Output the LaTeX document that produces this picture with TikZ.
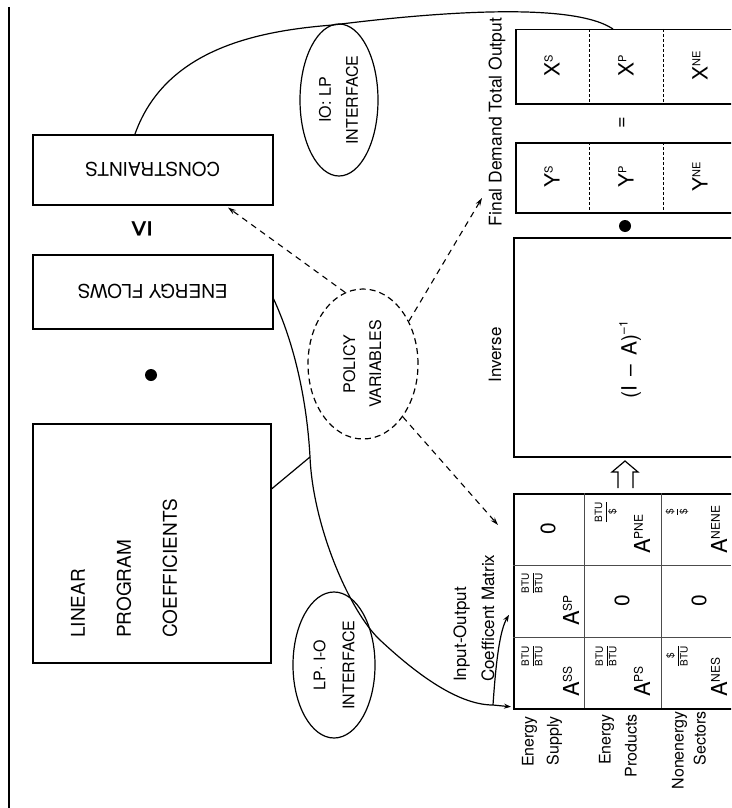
\documentclass[tikz,border=0pt]{standalone}
\usepackage{fontspec}
\setmainfont{TeX Gyre Heros}
\newfontfamily\dejavu{DejaVu Sans}
\usepackage{amsmath}
\usepackage{graphicx}
\usetikzlibrary{arrows.meta,shapes.geometric,calc}
\newcommand{\fsz}[2]{\fontsize{#1}{#2}\selectfont}
\newcommand{\Asub}[1]{{\fsz{22}{22}A}{\fsz{12}{12}\raisebox{7.2pt}{#1}}}
\newcommand{\XYsub}[2]{{\fsz{21}{21}#1}{\fsz{11}{11}\raisebox{7.2pt}{#2}}}
\newcommand{\ufrac}[2]{{\fsz{10}{10}$\dfrac{\text{#1}}{\text{#2}}$}}
\begin{document}
\begin{tikzpicture}[x=1pt,y=-1pt,
  box/.style={draw, line width=1.5pt, inner sep=0pt, anchor=north west},
  conn/.style={line width=1.2pt},
  tip/.style={-{Stealth[length=7pt,width=5pt]}},
  dasharrow/.style={line width=1.1pt, dash pattern=on 6pt off 5pt, -{Stealth[length=8pt,width=5pt]}},
  rot/.style={rotate=90, inner sep=0pt},
  oval/.style={ellipse, draw, line width=1.2pt, inner sep=0pt},
  grid/.style={line width=0.6pt, draw=black!70},
  divider/.style={line width=0.9pt, dash pattern=on 3pt off 2pt}]
\useasboundingbox (0,0) rectangle (731,808);
\clip (0,0) rectangle (731,808);
\fill[white] (0,0) rectangle (731,808);

% left rule
\draw[line width=1.5pt] (9,7) -- (9,808);

% left column boxes
\node[box, minimum width=240pt, minimum height=70pt] (con) at (32,134) {\rotatebox{180}{\fsz{19}{19}CONSTRAINTS}};
\node[rot, font=\fsz{27}{27}\dejavu] (le) at (142,229) {\scalebox{0.85}[1.25]{≤}};
\node[box, minimum width=240pt, minimum height=74pt] (ef) at (32,254) {\rotatebox{180}{\fsz{19}{19}ENERGY FLOWS}};
\fill (151,375) circle (6);
\node[box, minimum width=238pt, minimum height=239pt] (lp) at (32,423) {};
\node[rot, font=\fsz{19}{46}, align=left, anchor=west] (lptext) at (124,638) {LINEAR\\PROGRAM\\COEFFICIENTS};

% ellipses
\node[oval, minimum width=78pt, minimum height=152pt] (iolp) at (339,100)
  {\rotatebox{90}{\fsz{16}{27}\begin{tabular}{@{}c@{}}IO: LP\\INTERFACE\end{tabular}}};
\node[oval, minimum width=78pt, minimum height=146pt] (lpio) at (334,665)
  {\rotatebox{90}{\fsz{16}{29}\begin{tabular}{@{}c@{}}LP· I-O\\INTERFACE\end{tabular}}};
\node[oval, dash pattern=on 6pt off 4pt, minimum width=110pt, minimum height=150pt] (pv) at (363,364)
  {\rotatebox{90}{\fsz{16}{26}\begin{tabular}{@{}c@{}}POLICY\\VARIABLES\end{tabular}}};

% right column
\node[box, minimum width=240pt, minimum height=74pt] (xb) at (515,29) {};
\node[box, minimum width=240pt, minimum height=70pt] (yb) at (515,142) {};
\draw[divider] (589,29) -- (589,103) (663,29) -- (663,103);
\draw[divider] (589,142) -- (589,212) (663,142) -- (663,212);
\node[rot] (xs) at (552,66) {\XYsub{X}{S}};
\node[rot] (xp) at (626,66) {\XYsub{X}{P}};
\node[rot] (xne) at (700,66) {\XYsub{X}{NE}};
\node[rot] (ys) at (552,177) {\XYsub{Y}{S}};
\node[rot] (yp) at (626,177) {\XYsub{Y}{P}};
\node[rot] (yne) at (700,177) {\XYsub{Y}{NE}};
\node[rot, font=\fsz{20}{20}] (eq) at (623,123) {=};
\fill (625,226) circle (6);
\node[rot, font=\fsz{17.5}{17.5}] (fdto) at (497,122) {Final Demand Total Output};

\node[box, minimum width=240pt, minimum height=219pt] (inv) at (513,237) {};
\node[rot, font=\fsz{21}{21}] (invtext) at (630,360) {(I \,–\, A)\raisebox{9pt}{\fsz{12}{12}–1}};
\node[rot, font=\fsz{17}{17}] (invl) at (495,355) {Inverse};

% hollow arrow
\draw[line width=1.2pt, line join=miter] (618,488) -- (618,472) -- (612,472) -- (625,461) -- (638,472) -- (633,472) -- (633,488);

% matrix
\node[box, line width=1.8pt, minimum width=240pt, minimum height=215pt] (mat) at (513,493) {};
\draw[grid] (584,493) -- (584,708) (661,493) -- (661,708);
\draw[grid] (513,565) -- (731,565) (513,637) -- (731,637);
\node[rot, font=\fsz{17}{28}, align=left, anchor=west] (iocm) at (474,682) {Input-Output\\Coefficent Matrix};

\node[rot] (f11) at (532,656) {\ufrac{BTU}{BTU}};
\node[rot, anchor=west] (a11) at (571,697) {\Asub{SS}};
\node[rot] (f21) at (606,656) {\ufrac{BTU}{BTU}};
\node[rot, anchor=west] (a21) at (642,697) {\Asub{PS}};
\node[rot] (f31) at (677,656) {\ufrac{\$}{BTU}};
\node[rot, anchor=west] (a31) at (719,697) {\Asub{NES}};
\node[rot] (f12) at (532,583) {\ufrac{BTU}{BTU}};
\node[rot, anchor=west] (a12) at (571,626) {\Asub{SP}};
\node[rot, font=\fsz{21}{21}] (z22) at (622,601) {0};
\node[rot, font=\fsz{21}{21}] (z32) at (699,601) {0};
\node[rot, font=\fsz{21}{21}] (z13) at (548,529) {0};
\node[rot] (f23) at (606,512) {\ufrac{BTU}{\$}};
\node[rot, anchor=west] (a23) at (642,554) {\Asub{PNE}};
\node[rot] (f33) at (677,512) {\ufrac{\$}{\$}};
\node[rot, anchor=west] (a33) at (719,554) {\Asub{NENE}};

% row labels
\node[rot, font=\fsz{16}{25}, align=right, anchor=east] (rs) at (542,716) {Energy\\Supply};
\node[rot, font=\fsz{16}{26}, align=right, anchor=east] (rp) at (618,714) {Energy\\Products};
\node[rot, font=\fsz{16}{22}, align=right, anchor=east] (rn) at (689,711) {Nonenergy\\Sectors};

% connectors
\coordinate (j) at (310,457);
\coordinate (k) at (380,640);
\coordinate (b) at (493,705);
\coordinate (t) at (333,25);
\coordinate (fdtip) at (482,198);
\coordinate (mtip) at (498,525);

\draw[conn] ($(con.north west)+(103,0)$) .. controls (165,50) and (255,31) .. (t)
  .. controls (420,14) and (570,0) .. ($(xb.north west)+(98,0)$);
\draw[conn, tip] ($(ef.east)+(0,7)$) .. controls (295,345) and (307,402) .. (j)
  .. controls (313,527) and (350,612) .. (k)
  .. controls (410,668) and (455,705) .. (b) -- ($(mat.south west)+(-2,-3)$);
\draw[conn, tip] (b) .. controls (496,660) and (500,630) .. ($(mat.south west)+(-4,-95)$);
\draw[conn] ($(lp.north east)+(0,66)$) -- (j);

\draw[dasharrow] (pv.104) -- ($(con.south west)+(196,2)$);
\draw[dasharrow] (pv.43) -- (fdtip);
\draw[dasharrow] (pv.307) -- (mtip);
\end{tikzpicture}
\end{document}
